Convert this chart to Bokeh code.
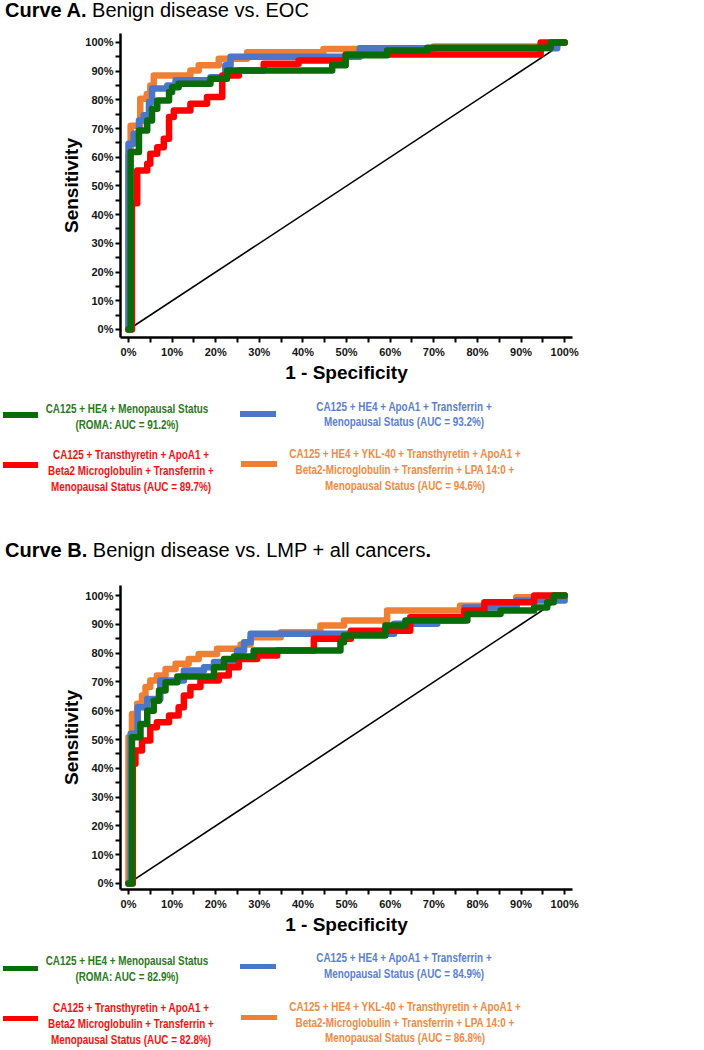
from bokeh.plotting import figure
from bokeh.models import Range1d, FixedTicker, Div
from bokeh.layouts import column
from bokeh.embed import file_html
from bokeh.resources import INLINE

# ---------------- data (percent) ----------------
# Curve A: Benign disease vs. EOC  (step-curve vertices: 1-specificity, sensitivity)
a_orange_fpr = [0, 0, 0.5, 2.7, 4.2, 5.0, 5.8, 14.2, 16.1, 20.7, 27.2, 44.7, 70.0, 97.0, 100]
a_orange_tpr = [0, 60.6, 71.0, 80.4, 82.0, 85.0, 88.5, 90.2, 92.0, 94.3, 96.6, 97.7, 98.6, 100, 100]
a_blue_fpr = [0, 0, 1.2, 2.4, 3.5, 4.7, 5.4, 8.9, 10.8, 18.8, 22.2, 23.4, 53.0, 98.3, 100]
a_blue_tpr = [0, 64.7, 68.2, 72.8, 74.6, 79.2, 83.9, 85.0, 86.8, 87.9, 92.0, 95.0, 98.0, 100, 100]
a_red_fpr = [0, 0.8, 2.0, 4.3, 5.0, 6.6, 8.1, 9.3, 10.4, 14.2, 18.0, 21.5, 25.3, 31.0, 39.0, 49.8, 94.5, 100]
a_red_tpr = [0, 44.0, 55.4, 57.7, 61.2, 63.5, 66.4, 74.0, 76.3, 78.6, 81.0, 88.5, 90.2, 92.6, 93.7, 95.8, 100, 100]
a_green_fpr = [0, 0.5, 2.4, 4.3, 5.4, 6.6, 9.3, 10.0, 11.5, 18.8, 22.6, 46.7, 49.8, 59.3, 68.5, 96.8, 100]
a_green_tpr = [0, 61.8, 69.3, 72.8, 76.9, 79.8, 82.7, 84.4, 85.6, 87.3, 90.2, 92.0, 95.5, 97.2, 98.1, 100, 100]

# Curve B: Benign disease vs. LMP + all cancers
b_orange_fpr = [0, 0, 0.8, 2.0, 3.1, 3.9, 5.0, 6.5, 8.5, 10.8, 13.8, 16.1, 20.3, 25.7, 28.0, 34.9, 44.0, 49.4, 59.3, 76.0, 88.9, 97.7, 100]
b_orange_tpr = [0, 50.8, 58.9, 62.4, 65.3, 68.2, 70.5, 72.2, 74.5, 76.3, 78.0, 79.7, 81.5, 83.0, 85.5, 87.3, 89.6, 91.3, 94.8, 96.5, 99.4, 100, 100]
b_blue_fpr = [0, 0.5, 2.1, 4.3, 7.3, 12.7, 17.3, 19.6, 24.9, 26.5, 28.0, 60.9, 70.8, 77.0, 89.0, 100]
b_blue_tpr = [0, 52.0, 61.2, 64.1, 70.5, 74.0, 75.1, 76.9, 80.9, 83.8, 86.7, 90.2, 91.3, 95.9, 98.3, 100]
b_red_fpr = [0, 1.0, 1.6, 3.1, 5.0, 6.5, 9.3, 11.5, 12.7, 14.2, 16.5, 20.7, 23.0, 25.3, 29.5, 34.1, 42.5, 51.0, 64.6, 77.0, 81.6, 93.0, 100]
b_red_tpr = [0, 41.6, 46.2, 49.7, 54.3, 56.0, 58.3, 61.2, 65.3, 68.2, 70.5, 72.2, 75.1, 78.0, 79.2, 80.9, 85.0, 87.8, 92.5, 94.8, 97.7, 100, 100]
b_green_fpr = [0, 0.8, 2.75, 4.3, 5.8, 7.0, 8.5, 11.2, 19.6, 21.9, 24.2, 28.7, 48.6, 49.4, 58.9, 63.5, 77.7, 85.3, 93.0, 96.0, 97.5, 100]
b_green_tpr = [0, 50.8, 55.4, 60.0, 63.5, 67.0, 69.9, 71.9, 75.1, 78.0, 78.8, 80.9, 83.8, 86.1, 89.6, 91.3, 93.6, 94.8, 95.9, 97.7, 100, 100]

chance_line = [0, 100]

tick_values = [0, 10, 20, 30, 40, 50, 60, 70, 80, 90, 100]
minor_tick_values = [5, 15, 25, 35, 45, 55, 65, 75, 85, 95]
tick_labels = ["0%", "10%", "20%", "30%", "40%", "50%", "60%", "70%", "80%", "90%", "100%"]

titles = [("Curve A.", " Benign disease vs. EOC", ""),
          ("Curve B.", " Benign disease vs. LMP + all cancers", ".")]

legend_a_labels = {
    "green": ["CA125 + HE4 + Menopausal Status", "(ROMA:  AUC = 91.2%)"],
    "blue": ["CA125 + HE4 + ApoA1 + Transferrin +", "Menopausal Status  (AUC = 93.2%)"],
    "red": ["CA125 + Transthyretin + ApoA1 +", "Beta2 Microglobulin + Transferrin +", "Menopausal Status  (AUC = 89.7%)"],
    "orange": ["CA125 + HE4 + YKL-40 + Transthyretin + ApoA1 +", "Beta2-Microglobulin + Transferrin + LPA 14:0 +", "Menopausal Status  (AUC = 94.6%)"],
}
legend_b_labels = {
    "green": ["CA125 + HE4 + Menopausal Status", "(ROMA:  AUC = 82.9%)"],
    "blue": ["CA125 + HE4 + ApoA1 + Transferrin +", "Menopausal Status  (AUC = 84.9%)"],
    "red": ["CA125 + Transthyretin + ApoA1 +", "Beta2 Microglobulin + Transferrin +", "Menopausal Status  (AUC = 82.8%)"],
    "orange": ["CA125 + HE4 + YKL-40 + Transthyretin + ApoA1 +", "Beta2-Microglobulin + Transferrin + LPA 14:0 +", "Menopausal Status  (AUC = 86.8%)"],
}

# ---------------- styles ----------------
LINE = {"green": "#0a6b0a", "blue": "#4a77c9", "red": "#ff0000", "orange": "#ef7f32"}
TEXT = {"green": "#2a7a18", "blue": "#5b80d2", "red": "#f81010", "orange": "#f08a44"}
W = 704
FONT = "Liberation Sans"


def title_div(parts):
    bold, normal, tail = parts
    html = "<b>%s</b>%s<b>%s</b>" % (bold, normal, tail)
    return Div(text=html, width=W - 5, height=22, margin=(0, 0, 0, 5),
               styles={"font-family": "'Liberation Sans', Arial, sans-serif",
                       "font-size": "20px", "line-height": "20px", "color": "#000000"})


def roc_fig(curves, y_lo, y_hi, height, top):
    p = figure(width=W, height=height, x_range=Range1d(-1.83, 101.8), y_range=Range1d(y_lo, y_hi),
               output_backend="svg", toolbar_location=None, title=None,
               min_border_left=120, min_border_right=W - 572, min_border_top=top, min_border_bottom=50)
    p.outline_line_color = None
    p.grid.visible = False
    p.background_fill_color = "white"
    for ax in (p.xaxis[0], p.yaxis[0]):
        ax.ticker = FixedTicker(ticks=tick_values, minor_ticks=minor_tick_values)
        ax.major_label_overrides = {v: s for v, s in zip(tick_values, tick_labels)}
        ax.axis_line_width = 2.5
        ax.axis_line_color = "#000000"
        ax.major_tick_line_width = 2
        ax.minor_tick_line_width = 2
        ax.major_tick_out = 5
        ax.major_tick_in = 0
        ax.minor_tick_out = 5
        ax.minor_tick_in = 0
        ax.major_label_text_font = FONT
        ax.major_label_text_font_style = "bold"
        ax.major_label_text_font_size = "11px"
        ax.major_label_text_color = "#151515"
        ax.axis_label_text_font = FONT
        ax.axis_label_text_font_style = "bold"
        ax.axis_label_text_font_size = "19px"
        ax.axis_label_text_color = "#000000"
    p.xaxis.axis_label = "1 - Specificity"
    p.yaxis.axis_label = "Sensitivity"
    p.xaxis.major_label_standoff = 3
    p.yaxis.major_label_standoff = 2
    p.xaxis.axis_label_standoff = 1
    p.yaxis.axis_label_standoff = 0
    p.line(chance_line, chance_line, line_color="#000000", line_width=1.6)
    for name in ("orange", "blue", "red", "green"):
        fx, ty = curves[name]
        p.step(fx, ty, mode="after", line_color=LINE[name], line_width=6.5, line_join="round", line_cap="round")
    return p


def legend_div(height, labels, layout):
    parts = ['<div style="position:relative;width:%dpx;height:%dpx;overflow:hidden;'
             "font-family:'Liberation Sans',Arial,sans-serif;font-weight:bold;font-size:13px;"
             'line-height:15.8px;">' % (W, height)]
    for name, (sx0, sx1, sy, cx, ty) in layout.items():
        parts.append('<div style="position:absolute;left:%gpx;top:%gpx;width:%gpx;height:5.5px;'
                     'background:%s;"></div>' % (sx0, sy - 2.75, sx1 - sx0, LINE[name]))
        parts.append('<div style="position:absolute;left:%gpx;top:%gpx;width:360px;text-align:center;'
                     'white-space:nowrap;color:%s;transform:scaleX(0.76);transform-origin:50%% 50%%;">%s</div>'
                     % (cx - 180, ty, TEXT[name], "<br>".join(labels[name])))
    parts.append("</div>")
    return Div(text="".join(parts), width=W, height=height, margin=(0, 0, 0, 0))


curves_a = {"orange": (a_orange_fpr, a_orange_tpr), "blue": (a_blue_fpr, a_blue_tpr),
            "red": (a_red_fpr, a_red_tpr), "green": (a_green_fpr, a_green_tpr)}
curves_b = {"orange": (b_orange_fpr, b_orange_tpr), "blue": (b_blue_fpr, b_blue_tpr),
            "red": (b_red_fpr, b_red_tpr), "green": (b_green_fpr, b_green_tpr)}

# legend placement: (swatch x0, swatch x1, swatch centre y, text centre x, text block top)
layout_a = {
    "green": (3, 38, 28, 127, 13.8),
    "blue": (240, 276, 27, 404, 11.7),
    "red": (3, 38, 78, 131, 60.1),
    "orange": (241, 277, 77, 405, 59.1),
}
layout_b = {
    "green": (3, 38, 29.3, 127, 13.8),
    "blue": (240, 276, 27.7, 404, 11.4),
    "red": (3, 38, 79.3, 131, 61.4),
    "orange": (241, 277, 78.3, 405, 59.8),
}

page = column(
    title_div(titles[0]),
    roc_fig(curves_a, -2.8, 103.1, 365, 11),
    legend_div(153, legend_a_labels, layout_a),
    title_div(titles[1]),
    roc_fig(curves_b, -2.1, 103.5, 377, 23),
    legend_div(110, legend_b_labels, layout_b),
    spacing=0,
)

open("out.html", "w").write(file_html(page, INLINE))
